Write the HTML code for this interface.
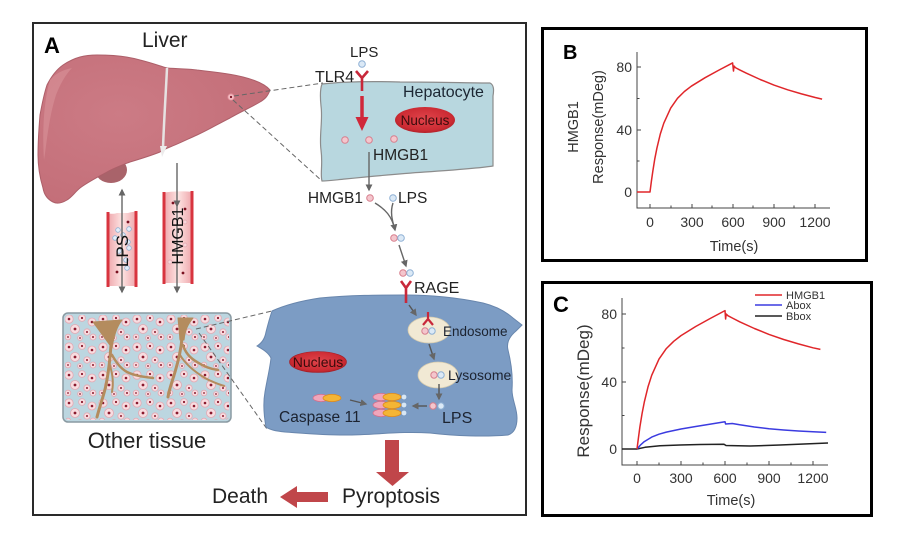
<!DOCTYPE html>
<html><head><meta charset="utf-8"><style>
html,body{margin:0;padding:0;background:#fff;}
svg{display:block;}
text{font-family:"Liberation Sans",Arial,sans-serif;}
</style></head><body>
<svg width="904" height="540" viewBox="0 0 904 540" xmlns="http://www.w3.org/2000/svg">
<defs>
<marker id="ag" viewBox="0 0 10 10" refX="8" refY="5" markerWidth="5" markerHeight="5" orient="auto-start-reverse"><path d="M0,0 L10,5 L0,10 z" fill="#666"/></marker>
<linearGradient id="ves" x1="0" x2="1" y1="0" y2="0"><stop offset="0" stop-color="#eea3a8"/><stop offset="0.5" stop-color="#fde4e3"/><stop offset="1" stop-color="#eea3a8"/></linearGradient>
<radialGradient id="nuc" cx="0.5" cy="0.45" r="0.6"><stop offset="0" stop-color="#e0444b"/><stop offset="0.75" stop-color="#cc2b33"/><stop offset="1" stop-color="#a51d25"/></radialGradient>
<radialGradient id="liv" cx="0.35" cy="0.4" r="0.7"><stop offset="0" stop-color="#cc7b85"/><stop offset="1" stop-color="#c36e78"/></radialGradient>
<pattern id="cells" x="63" y="313" width="34" height="28" patternUnits="userSpaceOnUse">
<g fill="#f8dce0" stroke="#e4a8b2" stroke-width="0.8">
<circle cx="6" cy="6" r="4.2"/><circle cx="19" cy="5" r="3.4"/><circle cx="29" cy="9" r="4"/><circle cx="12" cy="16" r="4.5"/><circle cx="24" cy="19" r="3.2"/><circle cx="5" cy="24" r="2.8"/><circle cx="17" cy="25" r="2.4"/><circle cx="30" cy="24" r="3"/>
</g>
<g fill="#8a1a2e">
<circle cx="6" cy="6" r="1.3"/><circle cx="19" cy="5" r="1.1"/><circle cx="29" cy="9" r="1.3"/><circle cx="12" cy="16" r="1.4"/><circle cx="24" cy="19" r="1"/><circle cx="5" cy="24" r="0.9"/><circle cx="17" cy="25" r="0.9"/><circle cx="30" cy="24" r="1"/>
</g>
</pattern>
</defs>

<!-- Panel frames -->
<rect x="33" y="23" width="493" height="492" fill="none" stroke="#2a2a2a" stroke-width="2"/>
<rect x="542.5" y="28.5" width="324" height="232" fill="none" stroke="#000" stroke-width="3"/>
<rect x="542.5" y="282.5" width="329" height="233" fill="none" stroke="#000" stroke-width="3"/>

<!-- ===== Panel A ===== -->
<text x="44" y="53" font-size="22" font-weight="bold" fill="#000">A</text>
<text x="142" y="47" font-size="21" fill="#222">Liver</text>

<ellipse cx="111" cy="170" rx="16" ry="13" fill="#a9636a"/>
<path d="M63,65 C75,57 85,55 97,55 C115,55 130,57 140,60 C152,63 160,66 167,68 C180,69 190,69 197,70 C215,72 232,74 243,77 C255,80 265,84 270,90 C268,96 265,99 260,102 C250,108 240,112 230,118 C218,124 208,130 197,135 C188,139 178,144 170,147 C165,149 163,150 160,152 C150,156 140,159 130,162 C122,165 114,168 107,172 C98,177 88,182 80,188 C75,192 72,197 67,200 C62,203 57,204 53,202 C47,199 44,194 43,188 C40,178 38,166 38,155 C38,140 39,127 40,115 C42,104 44,94 47,85 C51,77 56,70 63,65 Z" fill="url(#liv)" stroke="#ad5f69" stroke-width="1"/>
<path d="M50,80 C44,100 42,130 44,160 C46,150 48,120 56,95 C60,85 65,75 72,68 C62,70 55,74 50,80 Z" fill="#d8939a" opacity="0.6"/>
<path d="M167,68 C166,90 164,120 163,148" fill="none" stroke="#e6e2e2" stroke-width="2.5"/>
<path d="M160,146 L167,146 L162,157 Z" fill="#ecebeb"/>
<circle cx="231" cy="97" r="3.2" fill="#f4bcc2" stroke="#e08d98" stroke-width="0.8"/>
<circle cx="231" cy="97" r="1.1" fill="#7a1020"/>

<line x1="234" y1="96" x2="323" y2="83" stroke="#666" stroke-width="1" stroke-dasharray="5,3"/>
<line x1="233" y1="100" x2="322" y2="181" stroke="#666" stroke-width="1" stroke-dasharray="5,3"/>

<!-- LPS vessel -->
<path d="M107,213 C111,214 114,214 117,213 L128,213 C131,212 134,212 137,211 L137,286 L108,286 Z" fill="url(#ves)"/>
<line x1="108" y1="212" x2="108" y2="287" stroke="#d8343f" stroke-width="3"/>
<line x1="136" y1="211" x2="136" y2="287" stroke="#d8343f" stroke-width="3"/>
<g fill="#e5eef8" stroke="#8eb0d4" stroke-width="0.8">
<circle cx="118" cy="230" r="2.3"/><circle cx="123" cy="235" r="2.3"/><circle cx="129" cy="229" r="2.3"/><circle cx="115" cy="238" r="2.3"/><circle cx="128" cy="242" r="2.3"/><circle cx="129" cy="248" r="2.3"/><circle cx="119" cy="251" r="2.3"/><circle cx="126" cy="260" r="2.3"/><circle cx="127" cy="268" r="2.3"/>
</g>
<circle cx="128" cy="222" r="1.4" fill="#7a1020"/><circle cx="117" cy="272" r="1.4" fill="#7a1020"/>
<line x1="122" y1="190" x2="122" y2="292" stroke="#666" stroke-width="1.4" marker-start="url(#ag)" marker-end="url(#ag)"/>
<text transform="translate(128,251) rotate(-90)" text-anchor="middle" font-size="17" fill="#111">LPS</text>

<!-- HMGB1 vessel -->
<path d="M163,193 C170,191 185,191 193,192 L193,283 L164,283 Z" fill="url(#ves)"/>
<line x1="164" y1="192" x2="164" y2="284" stroke="#d8343f" stroke-width="3"/>
<line x1="192" y1="191" x2="192" y2="284" stroke="#d8343f" stroke-width="3"/>
<circle cx="173" cy="203" r="1.4" fill="#7a1020"/><circle cx="185" cy="209" r="1.4" fill="#7a1020"/><circle cx="183" cy="273" r="1.4" fill="#7a1020"/>
<g fill="#f7d6da" stroke="#e2a3ad" stroke-width="0.7"><circle cx="185" cy="222" r="2"/><circle cx="185" cy="245" r="2"/><circle cx="170" cy="262" r="2"/></g>
<line x1="177" y1="163" x2="177" y2="206" stroke="#666" stroke-width="1.4" marker-end="url(#ag)"/>
<line x1="177" y1="206" x2="177" y2="292" stroke="#666" stroke-width="1.4" marker-end="url(#ag)"/>
<text transform="translate(183,236) rotate(-90)" text-anchor="middle" font-size="16" fill="#111">HMGB1</text>

<!-- Other tissue -->
<rect x="63" y="313" width="168" height="109" rx="5" fill="#bcd6e0" stroke="#8a9aa2" stroke-width="1.5"/>
<rect x="65" y="315" width="164" height="105" rx="4" fill="url(#cells)"/>
<g fill="none" stroke="#b48c5e" stroke-linecap="round" stroke-linejoin="round">
<path d="M93,322 L122,320 C117,326 114,335 112,348 Z" fill="#b48c5e" stroke-width="1"/>
<path d="M111,345 C110,360 108,375 106,385 C104,395 100,405 97,417" stroke-width="3"/>
<path d="M112,355 C116,362 120,368 127,372 C135,376 145,377 153,378" stroke-width="2.5"/>
<path d="M109,362 C112,372 114,380 112,392" stroke-width="2"/>
<path d="M178,318 L193,318 C188,324 185,330 184,340 L180,340 Z" fill="#b48c5e" stroke-width="1"/>
<path d="M182,338 C181,350 178,362 175,372 C172,382 169,390 168,397" stroke-width="3"/>
<path d="M183,345 C185,352 190,358 197,362 C203,366 210,369 218,370" stroke-width="2.5"/>
<path d="M180,355 C186,365 195,372 205,378 C212,382 218,384 224,386" stroke-width="2"/>
</g>
<text x="147" y="448" text-anchor="middle" font-size="22" fill="#222">Other tissue</text>

<line x1="196" y1="329" x2="272" y2="311" stroke="#666" stroke-width="1" stroke-dasharray="5,3"/>
<line x1="199" y1="333" x2="267" y2="429" stroke="#666" stroke-width="1" stroke-dasharray="5,3"/>

<!-- Hepatocyte -->
<path d="M322,84 C340,82 365,81 400,82 C440,82 470,83 490,83 C494,85 494,90 493,96 L493,166 C480,168 455,170 425,172 C395,174 365,177 345,179 C335,180 328,181 322,181 C320,174 323,165 321,150 C319,136 323,120 321,106 C320,96 320,89 322,84 Z" fill="#b8d7df" stroke="#8c8c8c" stroke-width="1.2"/>
<text x="403" y="97" font-size="16" fill="#1c2733">Hepatocyte</text>
<ellipse cx="425" cy="120" rx="30" ry="13" fill="url(#nuc)"/>
<text x="425" y="125" text-anchor="middle" font-size="13.5" fill="#3a0c0c">Nucleus</text>
<text x="350" y="57" font-size="15" fill="#222">LPS</text>
<circle cx="362" cy="64" r="3.3" fill="#dbe9f6" stroke="#8eb0d4" stroke-width="1"/>
<text x="315" y="82" font-size="16" fill="#222">TLR4</text>
<path d="M356,71 L362,78 L368,71 M362,78 L362,91" fill="none" stroke="#c8283a" stroke-width="2.6"/>
<line x1="362" y1="96" x2="362" y2="119" stroke="#d0283a" stroke-width="3.5"/>
<path d="M355.5,117 L368.5,117 L362,131 Z" fill="#d0283a"/>
<g fill="#f4c6cd" stroke="#d77e8d" stroke-width="1"><circle cx="345" cy="140" r="3.3"/><circle cx="369" cy="140" r="3.3"/><circle cx="394" cy="139" r="3.3"/></g>
<text x="373" y="160" font-size="15.5" fill="#222">HMGB1</text>
<line x1="369" y1="152" x2="369" y2="190" stroke="#666" stroke-width="1.4" marker-end="url(#ag)"/>

<!-- extracellular -->
<text x="363" y="203" text-anchor="end" font-size="15.5" fill="#222">HMGB1</text>
<circle cx="370" cy="198" r="3.3" fill="#f4c6cd" stroke="#d77e8d" stroke-width="1"/>
<circle cx="393" cy="198" r="3.3" fill="#dbe9f6" stroke="#8eb0d4" stroke-width="1"/>
<text x="398" y="203" font-size="15.5" fill="#222">LPS</text>
<path d="M375,203 C385,209 392,216 395,230" fill="none" stroke="#666" stroke-width="1.4" marker-end="url(#ag)"/>
<path d="M393,203 C390,212 392,220 395,230" fill="none" stroke="#666" stroke-width="1.4"/>
<circle cx="394" cy="238" r="3.3" fill="#f4c6cd" stroke="#d77e8d" stroke-width="1"/>
<circle cx="401" cy="238" r="3.3" fill="#dbe9f6" stroke="#8eb0d4" stroke-width="1"/>
<line x1="399" y1="245" x2="406" y2="266" stroke="#666" stroke-width="1.4" marker-end="url(#ag)"/>
<circle cx="403" cy="273" r="3.3" fill="#f4c6cd" stroke="#d77e8d" stroke-width="1"/>
<circle cx="410" cy="273" r="3.3" fill="#dbe9f6" stroke="#8eb0d4" stroke-width="1"/>

<!-- Blue cell -->
<path d="M272,311 C285,305 300,301 320,298 C350,295 380,295 405,295 C430,295 455,297 483,303 C495,306 505,311 513,318 L522,325 L516,331 C510,336 506,342 508,350 C511,362 513,376 512,390 C512,400 517,408 517,418 C517,427 514,433 508,435 C485,437 455,436 430,433 C400,431 375,435 345,435 C320,435 300,433 285,432 C276,431 270,430 266,427 C264,416 263,403 265,392 C267,380 270,368 271,358 C268,352 262,349 257,346 C262,343 265,338 266,332 C268,324 270,317 272,311 Z" fill="#7c9cc4" stroke="#6886ad" stroke-width="1"/>
<path d="M401,281 L406,288 L411,281 M406,288 L406,303" fill="none" stroke="#c8283a" stroke-width="2.6"/>
<text x="414" y="293" font-size="16" fill="#222">RAGE</text>
<ellipse cx="318" cy="362" rx="28.5" ry="10.5" fill="url(#nuc)" stroke="#a51d25" stroke-width="0.6"/>
<text x="318" y="367" text-anchor="middle" font-size="14" fill="#3a0c0c">Nucleus</text>
<line x1="409" y1="305" x2="416" y2="315" stroke="#555" stroke-width="1.4" marker-end="url(#ag)"/>
<ellipse cx="429" cy="330" rx="21" ry="13" fill="#f1e9d4" stroke="#d6cbae" stroke-width="0.8"/>
<path d="M428,312 L428,319 M423,325 L428,319 L433,325" fill="none" stroke="#c8283a" stroke-width="2.2"/>
<circle cx="425" cy="331" r="3.2" fill="#f4c6cd" stroke="#d77e8d" stroke-width="1"/>
<circle cx="432" cy="331" r="3.2" fill="#dbe9f6" stroke="#8eb0d4" stroke-width="1"/>
<text x="443" y="336" font-size="13.5" fill="#1c2330">Endosome</text>
<line x1="429" y1="344" x2="434" y2="359" stroke="#555" stroke-width="1.4" marker-end="url(#ag)"/>
<ellipse cx="438" cy="375" rx="20" ry="13" fill="#f1e9d4" stroke="#d6cbae" stroke-width="0.8"/>
<circle cx="434" cy="375" r="3.2" fill="#f4c6cd" stroke="#d77e8d" stroke-width="1"/>
<circle cx="441" cy="375" r="3.2" fill="#dbe9f6" stroke="#8eb0d4" stroke-width="1"/>
<text x="448" y="380" font-size="14" fill="#1c2330">Lysosome</text>
<line x1="439" y1="384" x2="439" y2="399" stroke="#555" stroke-width="1.4" marker-end="url(#ag)"/>
<circle cx="433" cy="406" r="3.2" fill="#f4c6cd" stroke="#d77e8d" stroke-width="1"/>
<circle cx="441" cy="406" r="3.2" fill="#dbe9f6" stroke="#8eb0d4" stroke-width="1"/>
<text x="442" y="423" font-size="16" fill="#1c2330">LPS</text>
<line x1="427" y1="406" x2="413" y2="406" stroke="#555" stroke-width="1.4" marker-end="url(#ag)"/>
<g stroke-width="0.8">
<ellipse cx="381" cy="397" rx="8" ry="3.6" fill="#f0a6bb" stroke="#d46f8c"/><ellipse cx="392" cy="397" rx="9" ry="3.6" fill="#f4b535" stroke="#df8a1c"/>
<ellipse cx="381" cy="405" rx="8" ry="3.6" fill="#f0a6bb" stroke="#d46f8c"/><ellipse cx="392" cy="405" rx="9" ry="3.6" fill="#f4b535" stroke="#df8a1c"/>
<ellipse cx="381" cy="413" rx="8" ry="3.6" fill="#f0a6bb" stroke="#d46f8c"/><ellipse cx="392" cy="413" rx="9" ry="3.6" fill="#f4b535" stroke="#df8a1c"/>
<ellipse cx="321" cy="398" rx="8" ry="3.6" fill="#f0a6bb" stroke="#d46f8c"/><ellipse cx="332" cy="398" rx="9" ry="3.6" fill="#f4b535" stroke="#df8a1c"/>
</g>
<g fill="#d7e6f5"><circle cx="404" cy="397" r="2.4"/><circle cx="404" cy="405" r="2.4"/><circle cx="404" cy="413" r="2.4"/></g>
<line x1="350" y1="400" x2="366" y2="404" stroke="#555" stroke-width="1.4" marker-end="url(#ag)"/>
<text x="279" y="422" font-size="15.5" fill="#1c2330">Caspase 11</text>

<rect x="385" y="440" width="14" height="33" fill="#c0464a"/>
<path d="M376,472 L409,472 L392.5,486 Z" fill="#c0464a"/>
<text x="342" y="503" font-size="21" fill="#222">Pyroptosis</text>
<rect x="296" y="492" width="32" height="10" fill="#c0464a"/>
<path d="M297,486 L297,508 L280,497 Z" fill="#c0464a"/>
<text x="212" y="503" font-size="21" fill="#222">Death</text>

<!-- ===== Panel B ===== -->
<text x="563" y="59" font-size="20" font-weight="bold" fill="#000">B</text>
<g stroke="#444" stroke-width="1" fill="none">
<line x1="637" y1="52" x2="637" y2="208.5"/>
<line x1="636.5" y1="208" x2="830" y2="208"/>
<path d="M637,192 h4 M637,130 h4 M637,67 h4 M637,161 h2.5 M637,98.5 h2.5"/>
<path d="M650,208 v-4 M692,208 v-4 M733,208 v-4 M774,208 v-4 M815,208 v-4 M671,208 v-2.5 M712,208 v-2.5 M753,208 v-2.5 M794,208 v-2.5"/>
</g>
<g font-size="14" fill="#333">
<text x="632" y="72" text-anchor="end">80</text>
<text x="632" y="135" text-anchor="end">40</text>
<text x="632" y="197" text-anchor="end">0</text>
<text x="650" y="227" text-anchor="middle">0</text>
<text x="692" y="227" text-anchor="middle">300</text>
<text x="733" y="227" text-anchor="middle">600</text>
<text x="774" y="227" text-anchor="middle">900</text>
<text x="815" y="227" text-anchor="middle">1200</text>
<text x="734" y="251" text-anchor="middle" font-size="14.5">Time(s)</text>
<text transform="translate(603,127) rotate(-90)" text-anchor="middle" font-size="14.5">Response(mDeg)</text>
<text transform="translate(578,127) rotate(-90)" text-anchor="middle" font-size="14.5">HMGB1</text>
</g>
<polyline fill="none" stroke="#e0262a" stroke-width="1.5" stroke-linejoin="round" points="637,192 650,192 651.4,181.1 652.8,171.4 654.8,158.8 656.9,148.2 660.3,134 663.8,123.2 670.7,108.1 677.5,98.3 684.4,91.5 691.3,86.2 705.1,77.7 718.9,70.1 732.6,62.9 733.5,71 734,66 735.4,67.6 739.5,69.8 746.4,73.2 760.2,79.5 773.9,85.1 787.7,89.8 801.5,93.9 815.2,97.5 822.1,99.1"/>

<!-- ===== Panel C ===== -->
<text x="553" y="312" font-size="22" font-weight="bold" fill="#000">C</text>
<g stroke="#444" stroke-width="1" fill="none">
<line x1="622" y1="298" x2="622" y2="465.5"/>
<line x1="621.5" y1="465" x2="828" y2="465"/>
<path d="M622,449 h4 M622,382 h4 M622,314 h4 M622,415.5 h2.5 M622,348 h2.5"/>
<path d="M637,465 v-4 M681,465 v-4 M725,465 v-4 M769,465 v-4 M813,465 v-4 M659,465 v-2.5 M703,465 v-2.5 M747,465 v-2.5 M791,465 v-2.5"/>
</g>
<g font-size="14" fill="#333">
<text x="617" y="319" text-anchor="end">80</text>
<text x="617" y="387" text-anchor="end">40</text>
<text x="617" y="454" text-anchor="end">0</text>
<text x="637" y="483" text-anchor="middle">0</text>
<text x="681" y="483" text-anchor="middle">300</text>
<text x="725" y="483" text-anchor="middle">600</text>
<text x="769" y="483" text-anchor="middle">900</text>
<text x="813" y="483" text-anchor="middle">1200</text>
<text x="731" y="505" text-anchor="middle" font-size="14.5">Time(s)</text>
<text transform="translate(589,391) rotate(-90)" text-anchor="middle" font-size="17">Response(mDeg)</text>
</g>
<line x1="755" y1="295" x2="782" y2="295" stroke="#e0262a" stroke-width="1.5"/>
<line x1="755" y1="305" x2="782" y2="305" stroke="#3b3be0" stroke-width="1.5"/>
<line x1="755" y1="316" x2="782" y2="316" stroke="#222" stroke-width="1.5"/>
<g font-size="11" fill="#333">
<text x="786" y="299">HMGB1</text>
<text x="786" y="309">Abox</text>
<text x="786" y="320">Bbox</text>
</g>
<polyline fill="none" stroke="#222" stroke-width="1.5" stroke-linejoin="round" points="622,449 637,449 645,447.3 660,445.8 680,445 700,444.5 724,444.2 726,445.5 750,446 780,445 810,443.8 828,443"/>
<polyline fill="none" stroke="#3b3be0" stroke-width="1.5" stroke-linejoin="round" points="637,449 640.7,444.8 644.3,441.6 651.7,437.1 659,434.2 666.3,432.1 681,429 695.7,426.5 710.4,424.1 725,421.8 725.6,424 732.3,423.5 739.7,424.8 754.4,427 769,428.7 783.7,430 798.4,431 813,431.8 826.2,432.4"/>
<polyline fill="none" stroke="#e0262a" stroke-width="1.5" stroke-linejoin="round" points="637,449 638.5,437.4 639.9,426.9 642.1,413.4 644.3,402.1 648,386.9 651.7,375.3 659,359.1 666.3,348.6 673.7,341.3 681,335.6 695.7,326.5 710.4,318.4 725,310.6 725.6,319 726.2,314 727.9,315.7 732.3,318 739.7,321.8 754.4,328.5 769,334.4 783.7,339.5 798.4,343.9 813,347.8 820.4,349.4"/>
</svg>
</body></html>
